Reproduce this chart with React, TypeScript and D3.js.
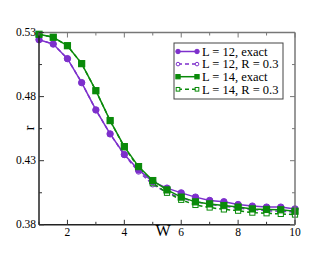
import React, { useEffect, useRef } from "react";
import * as d3 from "d3";

const W = [1, 1.5, 2, 2.5, 3, 3.5, 4, 4.5, 5, 5.5, 6, 6.5, 7, 7.5, 8, 8.5, 9, 9.5, 10];
const L12exact = [0.5244, 0.521, 0.5096, 0.4909, 0.4696, 0.4509, 0.4348, 0.4228, 0.4137, 0.4086, 0.4049, 0.4016, 0.399, 0.398, 0.3958, 0.3946, 0.3938, 0.3938, 0.3924];
const L12R = [0.5244, 0.521, 0.5096, 0.4909, 0.4696, 0.4509, 0.4345, 0.4215, 0.4115, 0.405, 0.401, 0.398, 0.396, 0.3945, 0.393, 0.392, 0.391, 0.3905, 0.39];
const L14exact = [0.5286, 0.5263, 0.5197, 0.5057, 0.4846, 0.4613, 0.441, 0.4254, 0.4145, 0.4072, 0.4016, 0.3979, 0.3963, 0.395, 0.3938, 0.3924, 0.392, 0.3917, 0.3906];
const L14R = [0.5286, 0.5263, 0.5197, 0.5057, 0.4846, 0.4613, 0.4405, 0.4245, 0.4125, 0.405, 0.3995, 0.3955, 0.3935, 0.392, 0.391, 0.3895, 0.389, 0.3885, 0.388];
const yTicks = [0.38, 0.43, 0.48, 0.53];
const xTicks = [2, 4, 6, 8, 10];
const labels = ["L = 12, exact", "L = 12, R = 0.3", "L = 14, exact", "L = 14, R = 0.3"];

const PURPLE = "#7d2fcc";
const GREEN = "#0a8a0a";
const FONT = "'Liberation Serif', 'Times New Roman', serif";

export default function App() {
  const ref = useRef<SVGSVGElement>(null);

  useEffect(() => {
    const svg = d3.select(ref.current);
    svg.selectAll("*").remove();
    const left = 39, right = 295, top = 32.5, bottom = 224.8;

    const x = d3.scaleLinear().domain([1, 10]).range([left, right]);
    const y = d3.scaleLinear().domain([0.38, 0.53]).range([bottom, top]);

    const series = [
      { vals: L12R, color: PURPLE, dash: "4,3", shape: "circle", filled: false },
      { vals: L14R, color: GREEN, dash: "4,3", shape: "square", filled: false },
      { vals: L12exact, color: PURPLE, dash: null, shape: "circle", filled: true },
      { vals: L14exact, color: GREEN, dash: null, shape: "square", filled: true },
    ];

    const g = svg.append("g");
    const line = d3.line<number>().x((_, i) => x(W[i])).y((d) => y(d));

    // scale = 1 for plot markers, smaller in the legend
    const drawMarker = (sel: any, s: any, cx: number, cy: number, k = 1) => {
      if (s.shape === "circle") {
        sel.append("circle").attr("cx", cx).attr("cy", cy).attr("r", (s.filled ? 3.2 : 2.6) * k)
          .attr("fill", s.filled ? s.color : "white").attr("stroke", s.color).attr("stroke-width", 1);
      } else {
        const h = (s.filled ? 3.1 : 2.6) * k;
        sel.append("rect").attr("x", cx - h).attr("y", cy - h).attr("width", 2 * h).attr("height", 2 * h)
          .attr("fill", s.filled ? s.color : "white").attr("stroke", s.color).attr("stroke-width", 1);
      }
    };

    series.forEach((s) => {
      g.append("path").datum(s.vals).attr("d", line).attr("fill", "none")
        .attr("stroke", s.color).attr("stroke-width", 1.5)
        .attr("stroke-dasharray", s.dash);
      s.vals.forEach((v, i) => drawMarker(g, s, x(W[i]), y(v)));
    });

    // frame
    const frame = svg.append("g");
    frame.append("line").attr("x1", left).attr("x2", right).attr("y1", top).attr("y2", top).attr("stroke", "#777").attr("stroke-width", 1.5);
    frame.append("line").attr("x1", right).attr("x2", right).attr("y1", top).attr("y2", bottom).attr("stroke", "#777").attr("stroke-width", 1.5);
    frame.append("line").attr("x1", left).attr("x2", right).attr("y1", bottom).attr("y2", bottom).attr("stroke", "#222").attr("stroke-width", 1.5);
    frame.append("line").attr("x1", left).attr("x2", left).attr("y1", top).attr("y2", bottom).attr("stroke", "#222").attr("stroke-width", 1.5);

    // ticks (inward, all four sides)
    d3.range(1, 11).forEach((t) => {
      const len = t % 2 === 0 ? 5 : 3;
      frame.append("line").attr("x1", x(t)).attr("x2", x(t)).attr("y1", bottom).attr("y2", bottom - len).attr("stroke", "#333");
      frame.append("line").attr("x1", x(t)).attr("x2", x(t)).attr("y1", top).attr("y2", top + len).attr("stroke", "#777");
    });
    d3.range(0.38, 0.5301, 0.025).forEach((t, i) => {
      const len = i % 2 === 0 ? 5 : 3;
      frame.append("line").attr("x1", left).attr("x2", left + len).attr("y1", y(t)).attr("y2", y(t)).attr("stroke", "#333");
      frame.append("line").attr("x1", right).attr("x2", right - len).attr("y1", y(t)).attr("y2", y(t)).attr("stroke", "#777");
    });

    svg.append("g").selectAll("text").data(xTicks).join("text")
      .attr("x", (d) => x(d)).attr("y", bottom + 11).attr("text-anchor", "middle")
      .attr("font-family", FONT).attr("font-size", 11.5).text((d) => d);
    svg.append("g").selectAll("text").data(yTicks).join("text")
      .attr("x", left - 3).attr("y", (d) => y(d) + 3.5).attr("text-anchor", "end")
      .attr("font-family", FONT).attr("font-size", 11.5).text((d) => d.toFixed(2));

    svg.append("text").attr("x", 163).attr("y", 236).attr("text-anchor", "middle")
      .attr("font-family", FONT).attr("font-size", 16).text("W");
    svg.append("text").attr("transform", "translate(34,128) rotate(-90)").attr("text-anchor", "middle")
      .attr("font-family", FONT).attr("font-size", 15).text("r");

    // legend
    const lg = svg.append("g");
    lg.append("rect").attr("x", 174).attr("y", 43).attr("width", 109).attr("height", 56)
      .attr("fill", "white").attr("stroke", "#444").attr("stroke-width", 1);
    const order = [series[2], series[0], series[3], series[1]];
    order.forEach((s, i) => {
      const cy = 51.5 + i * 12.6;
      lg.append("line").attr("x1", 178).attr("x2", 197).attr("y1", cy).attr("y2", cy)
        .attr("stroke", s.color).attr("stroke-width", 1.5).attr("stroke-dasharray", s.dash);
      drawMarker(lg, s, 178, cy, 0.7);
      drawMarker(lg, s, 197, cy, 0.7);
      lg.append("text").attr("x", 202).attr("y", cy + 4.3).attr("font-family", FONT)
        .attr("font-size", 12.5).text(labels[i]);
    });
  }, []);

  return (
    <svg ref={ref} width={332} height={257}
      style={{ position: "absolute", left: 0, top: 0, background: "white" }} />
  );
}
